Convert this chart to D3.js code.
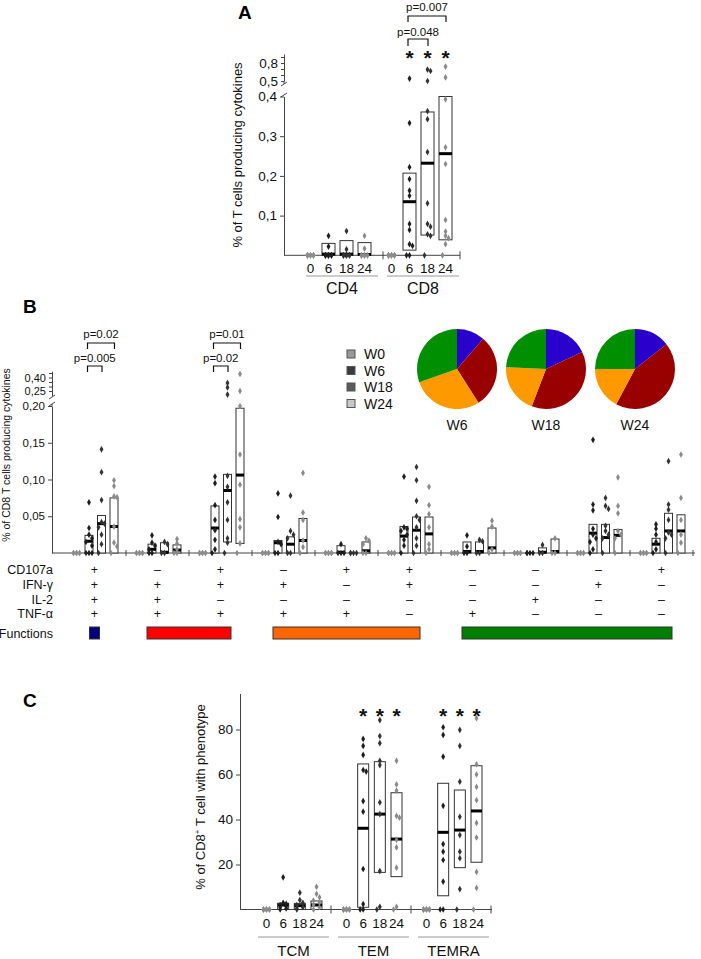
<!DOCTYPE html>
<html><head><meta charset="utf-8">
<script src="https://cdn.jsdelivr.net/npm/d3@7"></script>
<style>
body{margin:0;background:#fff}
svg{display:block}
</style></head><body>
<svg id="chart" width="701" height="959"></svg>
<script>
// ================= DATA =================
const timepoints = ["0","6","18","24"];
const weeks = ["W0","W6","W18","W24"];

// ---- Panel A ----
const aGroups = ["CD4","CD8"];
const aYTicks = [0.1,0.2,0.3,0.4];
const aYTicksUpper = [0.5,0.6,0.7,0.8,0.9];
const aYLabelsUpper = [0.5,0.8];
// box = [low, median, high] per timepoint
const aBoxes = [
  [null,[0,0.003,0.030],[0,0.003,0.037],[0,0.002,0.032]],
  [null,[0.013,0.135,0.207],[0.051,0.232,0.361],[0.039,0.256,0.400]]
];
const aDots = [
  [[0,0,0,0,0,0,0,0,0,0],[0.049,0.022,0,0,0,0,0,0,0,0],[0.061,0.015,0,0,0,0,0,0,0,0],[0.049,0.017,0,0,0,0,0,0,0,0]],
  [[0,0,0,0,0,0,0,0,0,0],[0.54,0.333,0.222,0.192,0.163,0.150,0.079,0.064,0.028,0.024,0,0],[0.69,0.667,0.5,0.363,0.343,0.26,0.131,0.079,0.072,0.053,0.049,0],[0.74,0.56,0.393,0.272,0.23,0.089,0.06,0.049,0.043,0.028,0]]
];
const aStars = [[1,1],[1,2],[1,3]];
const aPvals = [{g:1,from:1,to:2,level:0,label:"p=0.048"},{g:1,from:1,to:3,level:1,label:"p=0.007"}];

// ---- Panel B ----
const bFactors = ["CD107a","IFN-\u03b3","IL-2","TNF-\u03b1"];
// per combination: [CD107a, IFN-g, IL-2, TNF-a] (1 = +, 0 = -)
const bTable = [
  [1,1,1,1],[0,1,1,1],[1,1,0,1],[0,1,0,1],[1,0,0,1],
  [1,1,0,0],[0,0,0,1],[0,0,1,0],[0,1,0,0],[1,0,0,0]
];
const bYTicks = [0.05,0.10,0.15,0.20];
const bYTicksUpper = [0.25,0.30,0.35,0.40,0.45];
const bYLabelsUpper = [0.25,0.40];
const bBoxes = [
  [null,[0,0.016,0.024],[0,0.040,0.051],[0,0.036,0.075]],
  [null,[0,0.005,0.012],[0,0.001,0.014],[0,0.004,0.011]],
  [null,[0,0.034,0.064],[0.015,0.085,0.107],[0.013,0.106,0.197]],
  [null,[0,0.014,0.017],[0,0.012,0.022],[0,0.017,0.047]],
  [null,[0,0.001,0.010],null,[0,0.003,0.015]],
  [null,[0,0.023,0.036],[0,0.031,0.049],[0,0.026,0.049]],
  [null,[0,0.002,0.015],[0,0.002,0.015],[0,0.007,0.034]],
  [null,null,[0,0.001,0.007],[0,0.002,0.019]],
  [null,[0,0.027,0.039],[0,0.021,0.039],[0,0.024,0.032]],
  [null,[0,0.012,0.020],[0,0.030,0.054],[0,0.030,0.052]]
];
const bDots = [
  [[0,0,0,0,0,0],[0.069,0.034,0.025,0.02,0.015,0.01,0,0,0],[0.141,0.11,0.072,0.042,0.04,0.035,0.025,0.012,0],[0.099,0.091,0.077,0.076,0.036,0.014,0.009,0]],
  [[0,0,0,0,0,0],[0.024,0.014,0.01,0.005,0,0],[0.015,0.012,0,0],[0.019,0.013,0.005,0,0]],
  [[0,0,0,0,0,0],[0.104,0.095,0.065,0.045,0.031,0.018,0.005,0],[0.34,0.29,0.21,0.105,0.09,0.069,0.045,0.02,0.014,0],[0.44,0.25,0.2,0.134,0.093,0.046,0.035,0.013,0]],
  [[0,0,0,0,0,0],[0.081,0.049,0.015,0.012,0,0],[0.078,0.03,0.025,0.02,0,0],[0.109,0.055,0.045,0.017,0.008,0]],
  [[0,0,0,0,0,0],[0.012,0,0,0],[0,0,0,0],[0.02,0.017,0.012,0,0]],
  [[0,0,0,0,0,0],[0.104,0.035,0.033,0.03,0.025,0.018,0.01,0],[0.117,0.099,0.071,0.05,0.045,0.035,0.02,0.01,0],[0.09,0.065,0.053,0.035,0.012,0.005,0]],
  [[0,0,0,0,0,0],[0.024,0.009,0,0],[0.018,0.016,0,0],[0.044,0.036,0.005,0]],
  [[0,0,0,0,0,0],[0,0,0,0],[0.011,0,0],[0.02,0,0]],
  [[0,0,0,0,0,0],[0.154,0.066,0.058,0.033,0.025,0.02,0.015,0.005,0],[0.075,0.064,0.06,0.037,0.03,0.025,0.02,0],[0.103,0.064,0.054,0.03,0.025,0.02,0]],
  [[0,0,0,0,0,0],[0.039,0.033,0.025,0.015,0.005,0],[0.125,0.066,0.059,0.045,0.028,0.025,0.02,0],[0.134,0.075,0.045,0.025,0.014,0]]
];
const bPvals = [
  {g:0,from:1,to:2,level:0,label:"p=0.005"},{g:0,from:1,to:3,level:1,label:"p=0.02"},
  {g:2,from:1,to:2,level:0,label:"p=0.02"},{g:2,from:1,to:3,level:1,label:"p=0.01"}
];
const functionClasses = [4,3,2,1];
const pieWeeks = ["W6","W18","W24"];
const pieShares = [[11.3,29.7,28.6,30.4],[18.0,37.8,19.9,24.3],[14.4,43.4,17.2,25.0]];

// ---- Panel C ----
const cGroups = ["TCM","TEM","TEMRA"];
const cYTicks = [20,40,60,80];
const cBoxes = [
  [null,[0,2,2.8],[0,1.7,2.7],[0,2,3.8]],
  [null,[1,36.1,64.7],[16.5,42.4,65.7],[14.6,31.3,51.9]],
  [null,[6.1,34.3,56.1],[18.6,35.3,53.1],[21,43.8,63.9]]
];
const cDots = [
  [[0,0,0,0,0,0,0,0,0,0],[14.3,3,2.5,2,1.5,1,0.5,0],[7.5,4.2,3,2,1,0.5,0],[10.1,6.9,5.4,4,3,2,1,0]],
  [[0,0,0,0,0,0,0,0,0,0],[75.8,72.7,68.7,62,61.3,48.2,43.5,18,2.4,0,0],[84.2,77.1,73.9,66.1,64.2,47.6,42.4,17.1,1.2,0],[66.1,55.6,52.8,41.6,40.8,30.9,27.6,18.6,1.2,0]],
  [[0,0,0,0,0,0,0,0,0,0],[81,77.6,67.9,46.1,29.1,25.7,22,12.4,0,0],[79.8,72.7,56.8,41.2,33.1,25.7,22.8,9.1,0],[85,64.5,60,54.5,48.6,38.5,32,16.7,9.6,0]]
];
const cStars = [[1,1],[1,2],[1,3],[2,1],[2,2],[2,3]];

// ================= STYLE =================
const FONT = '"Liberation Sans", Arial, Helvetica, sans-serif';
const dotColors = ["#8c8c8c","#1e1e1e","#333333","#8a8a8a"];
const legendColors = ["#9a9a9a","#3a3a3a","#5a5a5a","#c8c8c8"];
const funcColors = {4:"#00007f",3:"#ff0000",2:"#ff6600",1:"#007f00"};
const pieColors = {4:"#2a00cc",3:"#990000",2:"#ff9900",1:"#008f00"};

const svg = d3.select("#chart").attr("font-family", FONT);
const diamond = d3.symbol().type(d3.symbolDiamond).size(13)();

function placeDots(vals, x, yFn){
  const out = [];
  vals.filter(v => v === 0).forEach((v,i) => out.push({x: x + ((i%3)-1)*3, y: yFn(0)}));
  const nz = vals.filter(v => v !== 0).sort((a,b) => b-a);
  let lastY = -1e9, side = 0;
  nz.forEach(v => {
    const y = yFn(v); let dx = 0;
    if (Math.abs(y-lastY) < 4) { side = side === 0 ? 1 : -side; dx = side*3; } else side = 0;
    lastY = y; out.push({x: x+dx, y});
  });
  return out;
}
function drawMarks(g, xPos, yFn, boxes, dots, bw){
  boxes.forEach((b,t) => {
    if (!b) return;
    const x = xPos(t);
    g.append("rect").attr("x", x-bw/2).attr("y", yFn(b[2])).attr("width", bw)
      .attr("height", yFn(b[0])-yFn(b[2])).attr("fill","#fff").attr("stroke","#333").attr("stroke-width",1);
    g.append("line").attr("x1", x-bw/2).attr("x2", x+bw/2).attr("y1", yFn(b[1])).attr("y2", yFn(b[1]))
      .attr("stroke","#000").attr("stroke-width",3);
  });
  dots.forEach((vals,t) => {
    g.selectAll(null).data(placeDots(vals, xPos(t), yFn)).enter().append("path")
      .attr("transform", d => `translate(${d.x},${d.y})`).attr("d", diamond).attr("fill", dotColors[t]);
  });
}
function styleAxis(sel, fs){
  sel.attr("font-family", FONT).attr("font-size", fs);
  sel.select(".domain").attr("stroke","#444");
  sel.selectAll(".tick line").attr("stroke","#444");
  sel.selectAll(".tick text").attr("fill","#111");
}
function bracket(g, x1, x2, yTop, yLeg, label, textY, fs){
  g.append("path").attr("d", `M${x1},${yLeg}V${yTop}H${x2}V${yLeg}`).attr("fill","none").attr("stroke","#111").attr("stroke-width",1.2);
  g.append("text").attr("x",(x1+x2)/2).attr("y",textY).attr("text-anchor","middle").attr("font-size",fs).attr("fill","#111").text(label);
}
function crossTicks(g, xs, y, h){
  xs.forEach(x => g.append("line").attr("x1",x).attr("x2",x).attr("y1",y-h).attr("y2",y+h).attr("stroke","#444"));
}
function breakMark(g, x, y){
  g.append("line").attr("x1",x-3).attr("x2",x+3).attr("y1",y+2).attr("y2",y-2).attr("stroke","#444");
}
function star(g, x, yCenter){
  g.append("text").attr("x",x).attr("y",yCenter+12).attr("text-anchor","middle")
    .attr("font-size",21).attr("font-weight","bold").attr("fill","#111").text("*");
}
const fmt1 = d => d3.format(".1f")(d).replace(".",",");
const fmt2 = d => d3.format(".2f")(d).replace(".",",");

// ================= PANEL A =================
{
  const g = svg.append("g");
  const axX = 284, axEnd = 460;
  const xA = d3.scaleBand().domain(aGroups).range([302,464]);
  const tA = d3.scalePoint().domain(timepoints).range([8.5,62.5]);
  const yAL = d3.scaleLinear().domain([0,0.4]).range([255.3,96.5]);
  const yAU = d3.scaleLinear().domain([0.5,0.95]).range([81,54]);
  const yA = v => v > 0.45 ? yAU(v) : yAL(v);

  g.append("text").attr("x",238).attr("y",19).attr("font-size",19).attr("font-weight","bold").text("A");

  g.append("g").attr("transform",`translate(${axX},0)`)
    .call(d3.axisLeft(yAL).tickValues(aYTicks).tickFormat(fmt1).tickSize(4).tickSizeOuter(0))
    .call(s => styleAxis(s, 13.5));
  g.append("g").attr("transform",`translate(${axX},0)`)
    .call(d3.axisLeft(yAU).tickValues(aYTicksUpper).tickFormat(d => aYLabelsUpper.includes(d) ? fmt1(d) : "").tickSize(3).tickSizeOuter(0))
    .call(s => styleAxis(s, 13.5));
  g.append("line").attr("x1",axX).attr("x2",axX).attr("y1",yAU(0.5)).attr("y2",84).attr("stroke","#444");
  breakMark(g, axX, 84); breakMark(g, axX, 95);

  g.append("text").attr("transform",`translate(242,155) rotate(-90)`).attr("text-anchor","middle")
    .attr("font-size",13).attr("fill","#111").text("% of T cells producing cytokines");

  g.append("line").attr("x1",axX).attr("x2",axEnd).attr("y1",yAL(0)).attr("y2",yAL(0)).attr("stroke","#444");
  crossTicks(g, [xA("CD8"), axEnd], yAL(0), 4);

  aGroups.forEach((grp,gi) => {
    const xPos = t => xA(grp) + tA(timepoints[t]);
    drawMarks(g, xPos, yA, aBoxes[gi], aDots[gi], 13);
    timepoints.forEach((tp,t) => g.append("text").attr("x",xPos(t)).attr("y",272.5).attr("text-anchor","middle").attr("font-size",13.5).attr("fill","#111").text(tp));
    const x1 = xA(grp)+4, x2 = xA(grp)+xA.bandwidth()-5;
    g.append("line").attr("x1",x1).attr("x2",x2).attr("y1",276).attr("y2",276).attr("stroke","#bbb").attr("stroke-width",1.5);
    g.append("text").attr("x",(x1+x2)/2).attr("y",294).attr("text-anchor","middle").attr("font-size",16).attr("fill","#111").text(grp);
  });
  aStars.forEach(([gi,t]) => star(g, xA(aGroups[gi])+tA(timepoints[t]), 52.5));
  const lev = [{top:39,leg:46,ty:36},{top:16,leg:22,ty:10.5}];
  aPvals.forEach(p => {
    const L = lev[p.level], grp = aGroups[p.g];
    bracket(g, xA(grp)+tA(timepoints[p.from])-1.5, xA(grp)+tA(timepoints[p.to])+0.5, L.top, L.leg, p.label, L.ty, 11.5);
  });
}

// ================= PANEL B =================
{
  const g = svg.append("g");
  const axX = 52, axEnd = 695;
  const xB = d3.scaleBand().domain(d3.range(bTable.length)).range([63,693]);
  const tB = d3.scalePoint().domain(timepoints).range([13.5,51]);
  const yBL = d3.scaleLinear().domain([0,0.2]).range([553,406]);
  const yBU = d3.scaleLinear().domain([0.2,0.47]).range([395.5,371.2]);
  const yB = v => v > 0.2 ? yBU(v) : yBL(v);

  g.append("text").attr("x",23).attr("y",313).attr("font-size",19).attr("font-weight","bold").text("B");

  g.append("g").attr("transform",`translate(${axX},0)`)
    .call(d3.axisLeft(yBL).tickValues(bYTicks).tickFormat(fmt2).tickSize(4).tickSizeOuter(0))
    .call(s => styleAxis(s, 11.5));
  g.append("g").attr("transform",`translate(${axX},0)`)
    .call(d3.axisLeft(yBU).tickValues(bYTicksUpper).tickFormat(d => bYLabelsUpper.includes(d) ? fmt2(d) : "").tickSize(3).tickSizeOuter(0))
    .call(s => styleAxis(s, 11));
  g.append("line").attr("x1",axX).attr("x2",axX).attr("y1",yBL(0.2)).attr("y2",404).attr("stroke","#444");
  breakMark(g, axX, 397); breakMark(g, axX, 404);

  g.append("text").attr("transform",`translate(10,455) rotate(-90)`).attr("text-anchor","middle")
    .attr("font-size",10.5).attr("fill","#111").text("% of CD8 T cells producing cytokines");

  g.append("line").attr("x1",axX).attr("x2",axEnd).attr("y1",yBL(0)).attr("y2",yBL(0)).attr("stroke","#444");
  crossTicks(g, xB.domain().map(i => xB(i)+xB.bandwidth()), yBL(0), 3);

  bTable.forEach((row,gi) => {
    const xPos = t => xB(gi) + tB(timepoints[t]);
    drawMarks(g, xPos, yB, bBoxes[gi], bDots[gi], 8);
  });

  // table
  const rowY = [573.5,588.5,603.5,618];
  bFactors.forEach((f,r) => {
    g.append("text").attr("x",53).attr("y",rowY[r]).attr("text-anchor","end").attr("font-size",12.5).attr("fill","#111").text(f);
    bTable.forEach((row,gi) => g.append("text").attr("x",xB(gi)+xB.bandwidth()/2).attr("y",rowY[r]).attr("text-anchor","middle")
      .attr("font-size",12.5).attr("fill","#111").text(row[r] ? "+" : "\u2013"));
  });
  g.append("text").attr("x",53).attr("y",637.5).attr("text-anchor","end").attr("font-size",12.5).attr("fill","#111").text("Functions");
  functionClasses.forEach(c => {
    const idx = bTable.map((row,i) => d3.sum(row) === c ? i : -1).filter(i => i >= 0);
    let x1, x2;
    if (idx.length === 1) { const cx = xB(idx[0]) + xB.bandwidth()/2; x1 = cx-5; x2 = cx+5; }
    else { x1 = xB(idx[0]) + 21; x2 = xB(idx[idx.length-1]) + 42; }
    g.append("rect").attr("x",x1).attr("y",627).attr("width",x2-x1).attr("height",12)
      .attr("fill",funcColors[c]).attr("stroke","#333").attr("stroke-width",1);
  });

  // p-values
  const lev = [{top:366,leg:372,ty:362},{top:343,leg:349,ty:338}];
  bPvals.forEach(p => {
    const L = lev[p.level];
    bracket(g, xB(p.g)+tB(timepoints[p.from])-1.5, xB(p.g)+tB(timepoints[p.to])+0.5, L.top, L.leg, p.label, L.ty, 11.5);
  });

  // legend
  weeks.forEach((w,i) => {
    const cy = 354 + i*16.5;
    g.append("rect").attr("x",347).attr("y",cy-4).attr("width",8).attr("height",8).attr("fill",legendColors[i]).attr("stroke","#555");
    g.append("text").attr("x",364).attr("y",cy+5).attr("font-size",14).attr("fill","#111").text(w);
  });

  // pies
  const pie = d3.pie().sort(null);
  const arc = d3.arc().innerRadius(0).outerRadius(40);
  const pieX = [457,546,635];
  pieWeeks.forEach((w,i) => {
    const pg = g.append("g").attr("transform",`translate(${pieX[i]},369)`);
    pg.selectAll("path").data(pie(pieShares[i])).enter().append("path")
      .attr("d", arc).attr("fill",(d,j) => pieColors[functionClasses[j]]);
    g.append("text").attr("x",pieX[i]).attr("y",430).attr("text-anchor","middle").attr("font-size",14).attr("fill","#111").text(w);
  });
}

// ================= PANEL C =================
{
  const g = svg.append("g");
  const axX = 240, axEnd = 492;
  const xC = d3.scaleBand().domain(cGroups).range([251,491]);
  const tC = d3.scalePoint().domain(timepoints).range([15.5,65.5]);
  const yC = d3.scaleLinear().domain([0,96]).range([909.5,693.5]);

  g.append("text").attr("x",23).attr("y",707).attr("font-size",19).attr("font-weight","bold").text("C");

  g.append("g").attr("transform",`translate(${axX},0)`)
    .call(d3.axisLeft(yC).tickValues(cYTicks).tickSize(4).tickSizeOuter(0))
    .call(s => styleAxis(s, 13.5));

  const yl = g.append("text").attr("transform",`translate(205,797) rotate(-90)`).attr("text-anchor","middle")
    .attr("font-size",13).attr("fill","#111");
  yl.append("tspan").text("% of CD8");
  yl.append("tspan").attr("font-size",8).attr("dy",-5).text("+");
  yl.append("tspan").attr("dy",5).text(" T cell with phenotype");

  g.append("line").attr("x1",axX).attr("x2",axEnd).attr("y1",yC(0)).attr("y2",yC(0)).attr("stroke","#444");
  crossTicks(g, cGroups.map(c => xC(c)+xC.bandwidth()), yC(0), 4);

  cGroups.forEach((grp,gi) => {
    const xPos = t => xC(grp) + tC(timepoints[t]);
    drawMarks(g, xPos, yC, cBoxes[gi], cDots[gi], 11);
    timepoints.forEach((tp,t) => g.append("text").attr("x",xPos(t)).attr("y",928).attr("text-anchor","middle").attr("font-size",13.5).attr("fill","#111").text(tp));
    const x1 = xC(grp)+7, x2 = xC(grp)+xC.bandwidth()-2;
    g.append("line").attr("x1",x1).attr("x2",x2).attr("y1",937).attr("y2",937).attr("stroke","#bbb").attr("stroke-width",1.5);
    g.append("text").attr("x",(x1+x2)/2).attr("y",955.5).attr("text-anchor","middle").attr("font-size",15).attr("fill","#111").text(grp);
  });
  cStars.forEach(([gi,t]) => star(g, xC(cGroups[gi])+tC(timepoints[t]), 711));
}
</script></body></html>
